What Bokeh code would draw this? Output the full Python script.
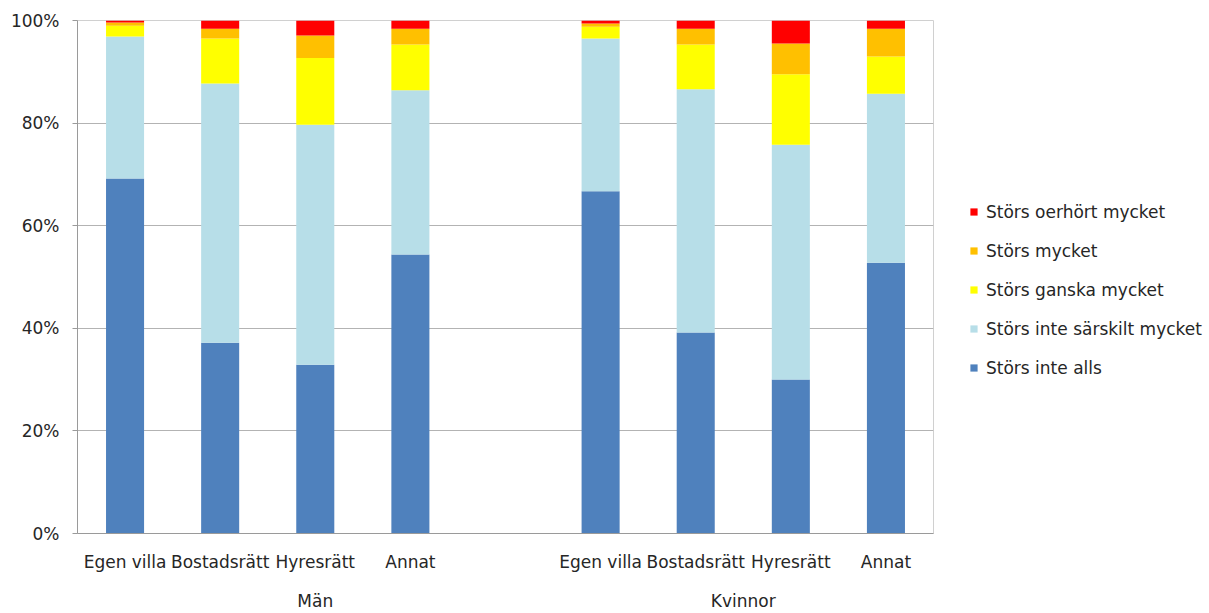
from bokeh.plotting import figure
from bokeh.models import (ColumnDataSource, FixedTicker, LinearAxis, Legend, LegendItem,
                          PrintfTickFormatter, Range1d)
from bokeh.embed import file_html
from bokeh.resources import INLINE

groups = ["Män", "Kvinnor"]
categories = ["Egen villa", "Bostadsrätt", "Hyresrätt", "Annat"]
series = ["Störs inte alls", "Störs inte särskilt mycket", "Störs ganska mycket",
          "Störs mycket", "Störs oerhört mycket"]
colors = ["#4F81BD", "#B7DEE8", "#FFFF00", "#FFC000", "#FF0000"]

# Order: Män (Egen villa, Bostadsrätt, Hyresrätt, Annat), then Kvinnor (same), in percent
inte_alls = [69.2, 37.2, 32.9, 54.4, 66.7, 39.2, 30.0, 52.8]
inte_sarskilt = [27.7, 50.5, 46.8, 32.0, 29.8, 47.4, 45.8, 32.9]
ganska = [2.1, 8.8, 13.0, 8.9, 2.3, 8.7, 13.7, 7.3]
mycket = [0.6, 1.9, 4.4, 3.1, 0.6, 3.1, 6.0, 5.4]
oerhort = [0.4, 1.6, 2.9, 1.6, 0.6, 1.6, 4.5, 1.6]

y_ticks = [0, 20, 40, 60, 80, 100]

FONT = "DejaVu Sans"
FS = "17px"
TXT = "#262626"

# x slots: Män categories followed by an empty slot (part of Män group), then Kvinnor
xs, labels, group_centers, group_labels = [], [], [], []
offset = 0
for gi, g in enumerate(groups):
    n_slots = len(categories) + (1 if gi < len(groups) - 1 else 0)
    for ci, c in enumerate(categories):
        xs.append(offset + ci)
        labels.append(c)
    group_centers.append(offset + (n_slots - 1) / 2)
    group_labels.append(g)
    offset += len(categories) + 1

data = {"x": xs}
keys = ["s0", "s1", "s2", "s3", "s4"]
for k, vals in zip(keys, [inte_alls, inte_sarskilt, ganska, mycket, oerhort]):
    data[k] = vals
source = ColumnDataSource(data)

p = figure(frame_width=856, frame_height=513, output_backend="svg", toolbar_location=None,
           x_range=Range1d(-0.5, xs[-1] + 0.5), y_range=Range1d(0, 100),
           min_border_left=77, min_border_top=20, min_border_bottom=0, min_border_right=0,
           x_axis_location=None)
p.outline_line_color = "#d0d0d0"
p.background_fill_color = "white"
p.border_fill_color = "white"

renderers = p.vbar_stack(keys, x="x", width=0.4, source=source, color=colors,
                         line_color=None)

# y axis
p.yaxis.ticker = FixedTicker(ticks=y_ticks)
p.yaxis.formatter = PrintfTickFormatter(format="%d%%")
p.yaxis.axis_line_color = "#9a9a9a"
p.yaxis.major_tick_line_color = "#9a9a9a"
p.yaxis.major_tick_out = 5
p.yaxis.major_tick_in = 0
p.yaxis.minor_tick_line_color = None
p.yaxis.major_label_standoff = 13
p.yaxis.major_label_text_font = FONT
p.yaxis.major_label_text_font_size = FS
p.yaxis.major_label_text_color = TXT

p.xgrid.grid_line_color = None
p.ygrid.ticker = FixedTicker(ticks=y_ticks)
p.ygrid.grid_line_color = "#b3b3b3"

# category axis
ax1 = LinearAxis(ticker=FixedTicker(ticks=xs),
                 major_label_overrides={x: l for x, l in zip(xs, labels)})
ax1.axis_line_color = "#9a9a9a"
ax1.major_tick_line_color = None
ax1.minor_tick_line_color = None
ax1.major_tick_out = 0
ax1.major_tick_in = 0
ax1.major_label_standoff = 18
ax1.major_label_text_font = FONT
ax1.major_label_text_font_size = FS
ax1.major_label_text_color = TXT
p.add_layout(ax1, "below")

# group axis
ax2 = LinearAxis(ticker=FixedTicker(ticks=group_centers),
                 major_label_overrides={x: l for x, l in zip(group_centers, group_labels)})
ax2.axis_line_color = None
ax2.major_tick_line_color = None
ax2.minor_tick_line_color = None
ax2.major_tick_out = 0
ax2.major_tick_in = 0
ax2.major_label_standoff = 16
ax2.major_label_text_font = FONT
ax2.major_label_text_font_size = FS
ax2.major_label_text_color = TXT
p.add_layout(ax2, "below")

items = [LegendItem(label=s, renderers=[r]) for s, r in zip(series, renderers)][::-1]
legend = Legend(items=items, location=(36, 155), orientation="vertical", ncols=1)
legend.margin = 20
legend.padding = 0
legend.glyph_width = 9
legend.glyph_height = 9
legend.label_height = 21
legend.spacing = 18
legend.label_standoff = 8
legend.label_text_font = FONT
legend.label_text_font_size = FS
legend.label_text_color = TXT
legend.border_line_color = None
legend.background_fill_alpha = 0
p.add_layout(legend, "right")

open("out.html", "w").write(file_html(p, INLINE))
